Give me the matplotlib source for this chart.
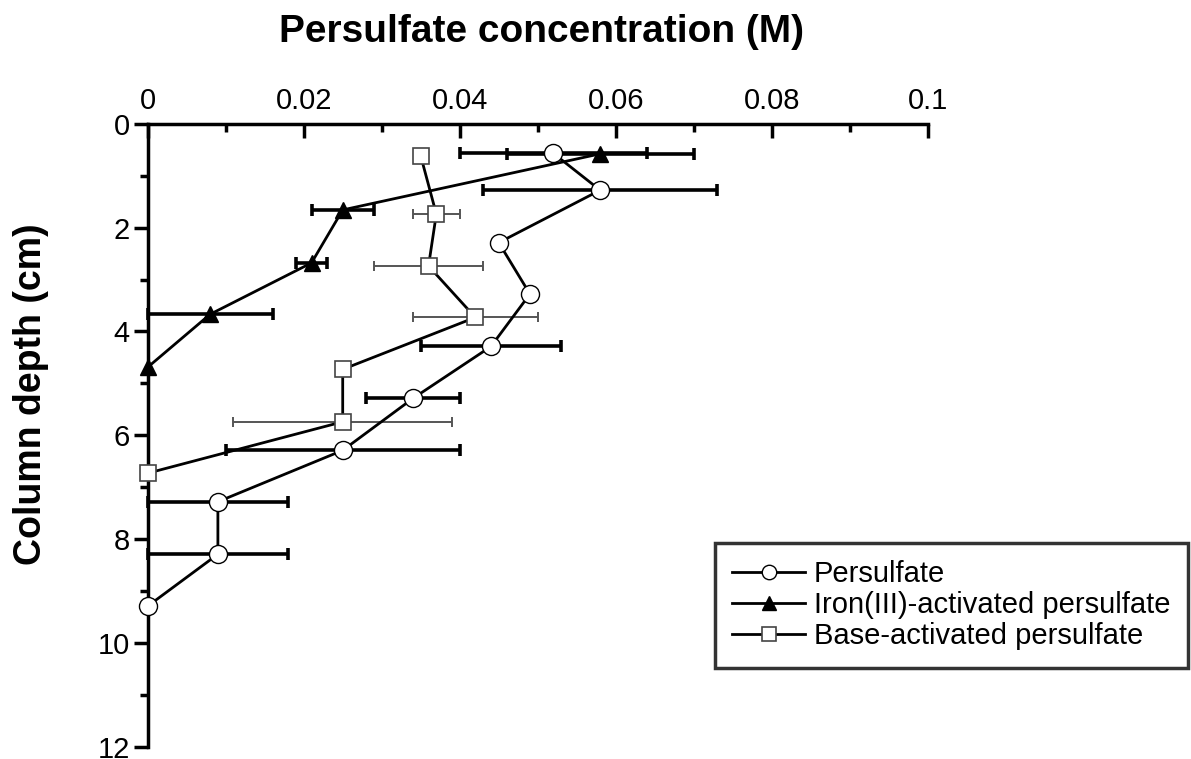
import numpy as np
import matplotlib
matplotlib.use("Agg")
import matplotlib.pyplot as plt
from matplotlib.ticker import MultipleLocator

plt.rcParams['font.family'] = ['Liberation Sans', 'DejaVu Sans']

# data
ps_depth = [0.57, 1.28, 2.29, 3.28, 4.29, 5.29, 6.29, 7.28, 8.29, 9.29]
ps_conc = [0.052, 0.058, 0.045, 0.049, 0.044, 0.034, 0.025, 0.009, 0.009, 0.0]
ps_err = [0.012, 0.015, 0.0, 0.0, 0.009, 0.006, 0.015, 0.009, 0.009, 0.0]

fe_depth = [0.58, 1.66, 2.68, 3.67, 4.69]
fe_conc = [0.058, 0.025, 0.021, 0.008, 0.0]
fe_err = [0.012, 0.004, 0.002, 0.008, 0.0]

base_depth = [0.62, 1.74, 2.74, 3.73, 4.73, 5.74, 6.73]
base_conc = [0.035, 0.037, 0.036, 0.042, 0.025, 0.025, 0.0]
base_err = [0.0, 0.003, 0.007, 0.008, 0.0, 0.014, 0.0]

labels = ['Persulfate', 'Iron(III)-activated persulfate', 'Base-activated persulfate']

fig = plt.figure(figsize=(11.91, 7.59), dpi=100)
ax = fig.add_axes([0.124, 0.016, 0.655, 0.821])


def err_subset(x, y, e):
    x, y, e = np.array(x), np.array(y), np.array(e)
    keep = e > 0
    return x[keep], y[keep], e[keep]


# error bars
x, y, e = err_subset(ps_conc, ps_depth, ps_err)
ax.errorbar(x, y, xerr=e, fmt='none', ecolor='black', elinewidth=2.6,
            capsize=4.5, capthick=2.6, zorder=2, clip_on=False)
x, y, e = err_subset(fe_conc, fe_depth, fe_err)
ax.errorbar(x, y, xerr=e, fmt='none', ecolor='black', elinewidth=2.6,
            capsize=4.5, capthick=2.6, zorder=2, clip_on=False)
x, y, e = err_subset(base_conc, base_depth, base_err)
ax.errorbar(x, y, xerr=e, fmt='none', ecolor='#555555', elinewidth=1.4,
            capsize=3.5, capthick=1.4, zorder=2, clip_on=False)

# lines + markers
ax.plot(ps_conc, ps_depth, '-o', color='black', lw=2, ms=13, mfc='white',
        mec='black', mew=1, label=labels[0], zorder=4, clip_on=False)
ax.plot(fe_conc, fe_depth, '-^', color='black', lw=2, ms=12, mfc='black',
        mec='black', mew=1, label=labels[1], zorder=4, clip_on=False)
ax.plot(base_conc, base_depth, '-s', color='black', lw=2, ms=12, mfc='white',
        mec='#444444', mew=1.2, label=labels[2], zorder=3, clip_on=False)

ax.set_xlim(0, 0.1)
ax.set_ylim(12, 0)
ax.xaxis.tick_top()
ax.spines['right'].set_visible(False)
ax.spines['bottom'].set_visible(False)
ax.spines['top'].set_linewidth(2.5)
ax.spines['left'].set_linewidth(2.5)

ax.xaxis.set_minor_locator(MultipleLocator(0.01))
ax.yaxis.set_major_locator(MultipleLocator(2))
ax.yaxis.set_minor_locator(MultipleLocator(1))
ax.set_xticks([0, 0.02, 0.04, 0.06, 0.08, 0.1])
ax.set_xticklabels(['0', '0.02', '0.04', '0.06', '0.08', '0.1'])
ax.tick_params(axis='x', which='major', direction='in', length=10, width=2.5,
               labelsize=21, pad=6)
ax.tick_params(axis='x', which='minor', direction='in', length=6, width=2.5)
ax.tick_params(axis='y', which='major', direction='out', length=10, width=2.5,
               labelsize=21, pad=3)
ax.tick_params(axis='y', which='minor', direction='out', length=6, width=2.5)

fig.text(0.4546, 0.9447, 'Persulfate concentration (M)', ha='center',
         va='baseline', fontsize=28, fontweight='bold')
fig.text(0.026, 0.481, 'Column depth (cm)', ha='center', va='center',
         rotation=90, fontsize=27, fontweight='bold')

leg = ax.legend(loc='upper left', bbox_to_anchor=(0.600, 0.285),
                bbox_transform=fig.transFigure, borderaxespad=0,
                fontsize=21, frameon=True, fancybox=False, handlelength=2.5,
                handletextpad=0.3, labelspacing=0.1, borderpad=0.6,
                markerscale=0.8)
leg.get_frame().set_edgecolor('black')
leg.get_frame().set_linewidth(2.5)

fig.savefig('out.png', dpi=100)
